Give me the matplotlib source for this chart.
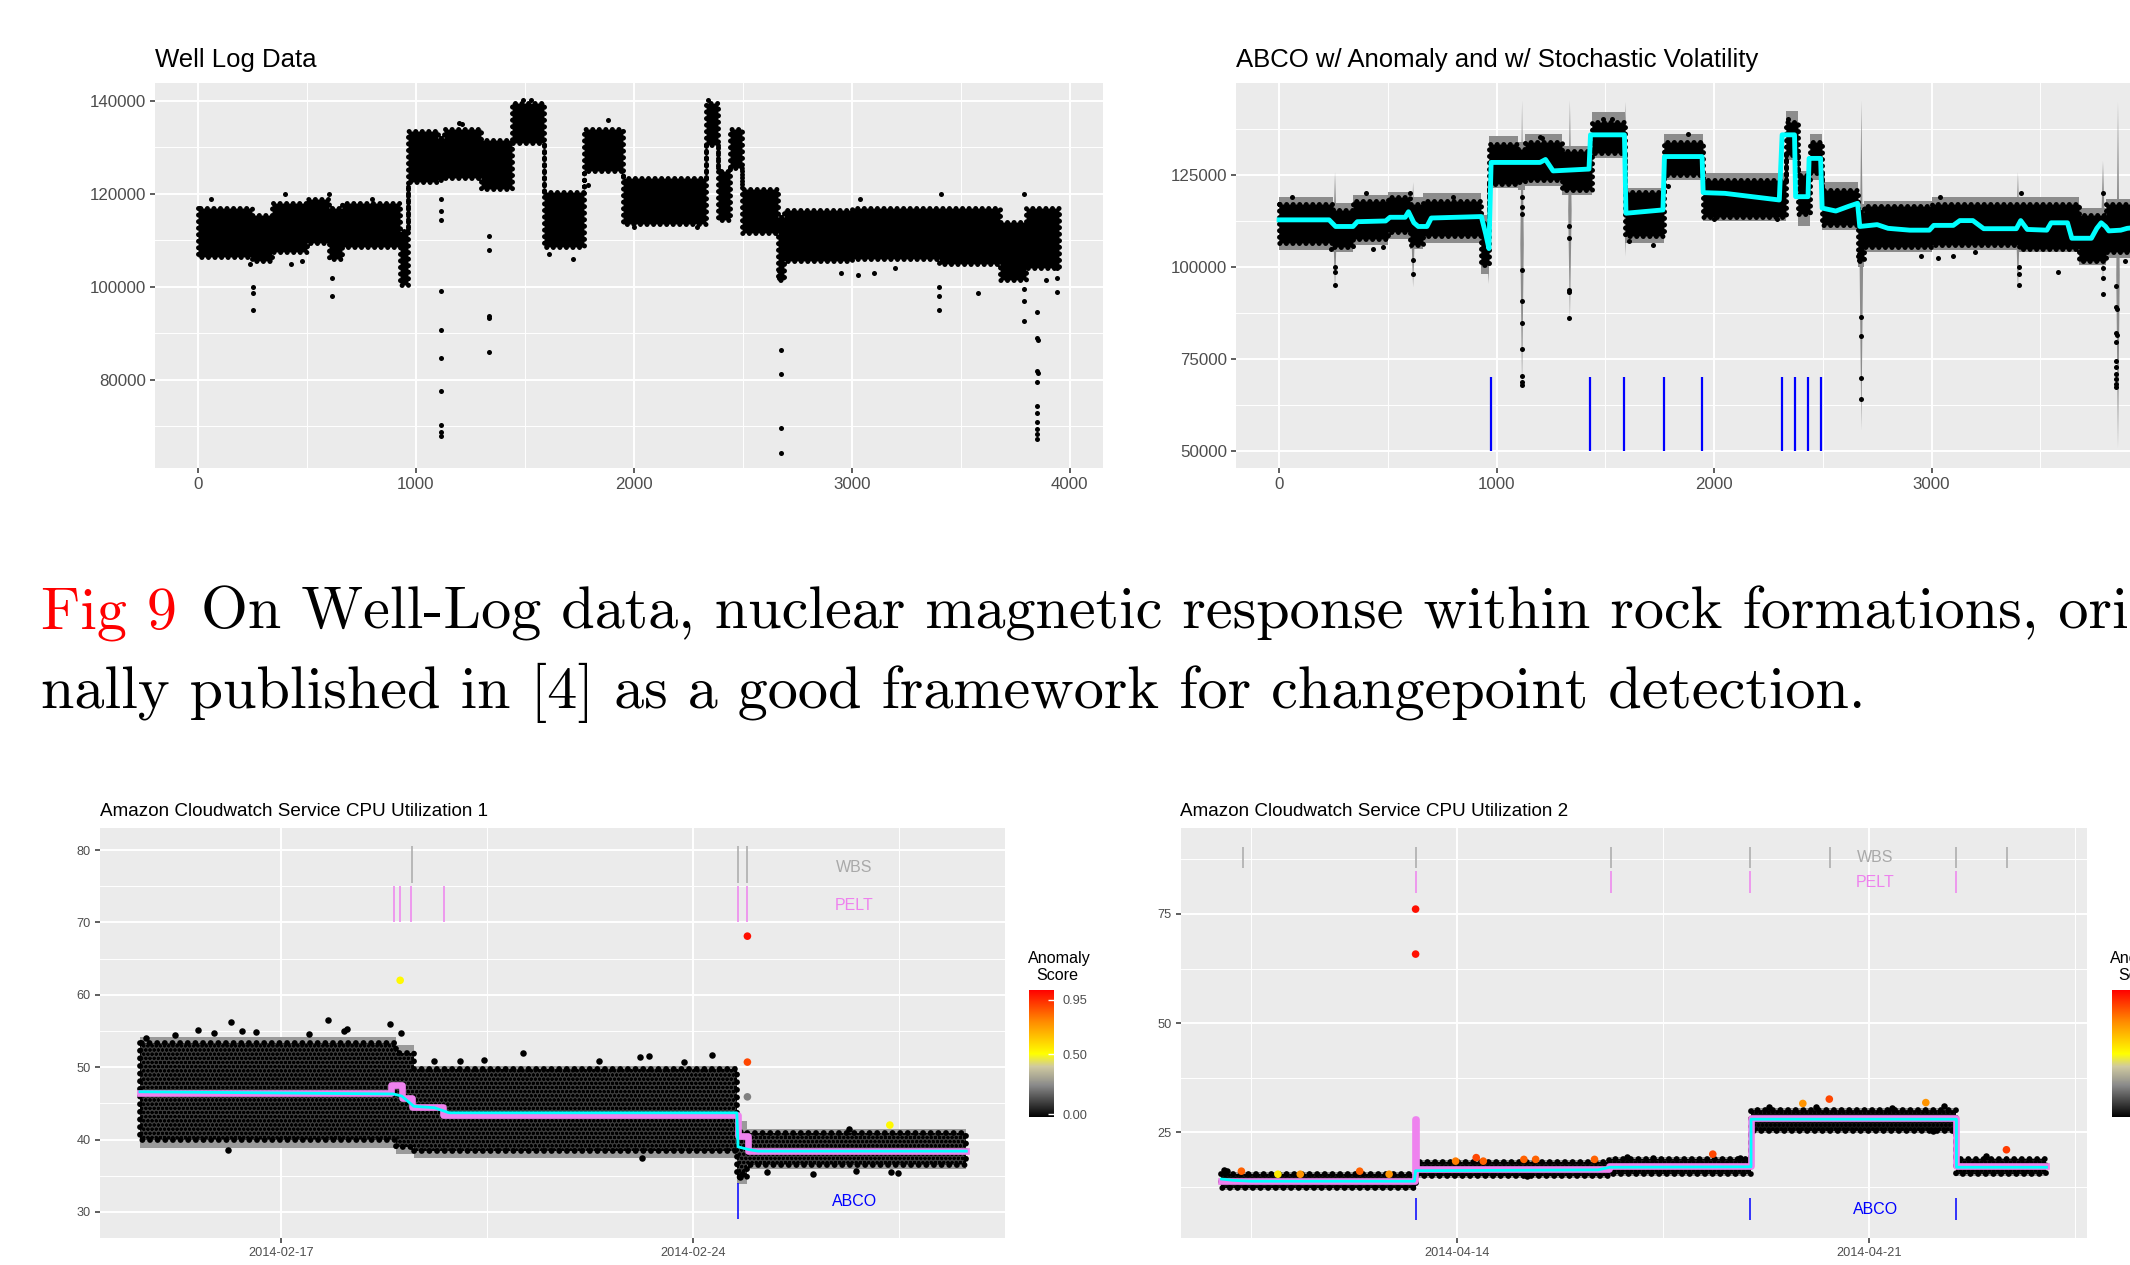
import numpy as np
import matplotlib
matplotlib.use("Agg")
import matplotlib.pyplot as plt
from matplotlib.colors import LinearSegmentedColormap, Normalize
from matplotlib.cm import ScalarMappable

plt.rcParams['font.family'] = ['Liberation Sans', 'DejaVu Sans']
plt.rcParams['hatch.color'] = 'black'
plt.rcParams['hatch.linewidth'] = 1.0

W, H = 2130, 1265

# well log: dense cloud read as blocks (index range, low / high edge)
wl_x0 = [0, 250, 340, 500, 600, 660, 930, 965, 1100, 1130, 1300, 1440, 1590, 1770, 1950,
         2330, 2385, 2440, 2495, 2660, 2690, 3000, 3400, 3680, 3800]
wl_x1 = [250, 340, 500, 600, 660, 930, 965, 1100, 1130, 1300, 1440, 1590, 1770, 1950, 2330,
         2385, 2440, 2495, 2660, 2690, 3000, 3400, 3680, 3800, 3950]
wl_lo = [106500, 105500, 107500, 109500, 106000, 108500, 100500, 122500, 123000, 123500,
         121000, 131000, 108500, 125000, 113500, 130500, 114500, 125500, 111500, 101500,
         105500, 106000, 105000, 101500, 104000]
wl_hi = [117000, 115500, 118000, 119000, 117000, 118000, 112000, 133500, 132000, 134000,
         131500, 139500, 120500, 134000, 123500, 139500, 125000, 134000, 121000, 115000,
         116500, 117000, 117000, 114000, 117000]
# points lying outside the dense cloud
wl_pt_x = [255, 255, 255, 614, 614, 1115, 1115, 1115, 1115, 1115, 1115, 1115, 1115, 1115, 1115,
           1335, 1335, 1335, 1335, 1335, 1720, 3400, 3400, 3400, 3580, 3790, 3790, 3790,
           3850, 3850, 3853, 3850, 3853, 3850, 3850, 3850, 3850, 3850, 3850, 3850,
           2675, 2675, 2675, 2675, 2950, 3030, 3890, 3940, 3940, 3940,
           1200, 1490, 1530, 2340, 60, 400, 600, 800, 1210, 1880, 3410, 3790, 3040,
           240, 430, 480, 3200, 3100, 1610, 1790, 2000, 2290, 2300, 2665, 2668]
wl_pt_y = [100000, 98700, 95000, 102000, 98000, 119000, 116300, 114300, 99200, 90700, 84800,
           77600, 70300, 68800, 68000, 111000, 108000, 93700, 93300, 86000, 106000,
           100000, 98000, 95000, 98700, 99600, 97000, 92700,
           94700, 89000, 88700, 82000, 81500, 79600, 74500, 72800, 70900, 69500, 68300, 67300,
           86400, 81200, 69700, 64200, 103000, 102500, 101500, 104000, 102000, 99000,
           135200, 140200, 140200, 140300, 119000, 120000, 120000, 119000, 135000, 136000,
           120000, 120000, 119000, 105000, 105000, 105500, 104000, 103000, 107000, 122000,
           113000, 113000, 122500, 103400, 102000]

# ABCO fit on the well log
rb_lo = [104500, 104000, 106000, 107500, 105000, 106500, 98000, 121500, 121000, 122000,
         119500, 129500, 106500, 123500, 112500, 129000, 111000, 123500, 110000, 100000,
         104000, 104500, 104000, 100500, 102500]
rb_hi = [119000, 117500, 119500, 120500, 119000, 120000, 114000, 135500, 134000, 136000,
         133000, 142000, 121500, 136000, 125500, 142500, 126000, 136000, 123000, 117000,
         118000, 119000, 119000, 116000, 118500]
spike_x = [255, 614, 960, 1115, 1335, 1590, 2675, 3395, 3786, 3855]
spike_lo = [93700, 94600, 95500, 67500, 85600, 103000, 55700, 93600, 96000, 50900]
spike_hi = [125900, 123200, 121000, 145400, 145400, 145000, 145400, 125900, 129000, 145000]
abco_x = [0, 230, 260, 340, 360, 490, 510, 580, 595, 620, 640, 680, 700, 930, 950, 965, 975,
          1200, 1225, 1260, 1425, 1432, 1588, 1595, 1765, 1772, 1945, 1950, 2050, 2300, 2313,
          2370, 2375, 2432, 2437, 2490, 2497, 2560, 2620, 2660, 2670, 2750, 2800, 2900, 2990,
          3010, 3100, 3130, 3190, 3240, 3390, 3410, 3440, 3530, 3550, 3625, 3645, 3735, 3760,
          3780, 3800, 3815, 3870, 3900, 3950]
abco_y = [112800, 112800, 111000, 111000, 112300, 112500, 113500, 113500, 115000, 112000,
          111000, 111000, 113300, 113700, 109000, 105000, 128400, 128400, 129200, 126100,
          126600, 135900, 135900, 114600, 115500, 130000, 130000, 120200, 120000, 118200,
          135900, 135900, 119100, 119100, 129500, 129500, 116000, 115200, 116500, 117300,
          111000, 111500, 110500, 110000, 110000, 111300, 111300, 112600, 112600, 110400,
          110400, 112600, 110200, 110000, 112000, 112000, 107800, 107800, 110500, 112000,
          111000, 109800, 110000, 110500, 110800]
abco_cp = [973, 1431, 1584, 1771, 1946, 2313, 2373, 2434, 2494]

# Cloudwatch 1 (days from 2014-02-17)
c1_x0 = [-2.40, 1.95, 2.25, 7.74, 7.92]
c1_x1 = [1.95, 2.25, 7.74, 7.92, 11.64]
c1_lo = [40.0, 39.0, 38.4, 34.8, 36.5]
c1_hi = [53.4, 52.0, 49.8, 41.0, 40.9]
c1_rlo = [38.9, 38.0, 37.4, 33.8, 35.9]
c1_rhi = [54.2, 53.0, 50.1, 42.5, 41.4]
c1_pt_d = [-0.85, -1.41, -1.80, -1.14, -0.67, -0.43, 0.47, 0.79, 1.06, 1.12, 1.84, 2.04, -0.91,
           4.10, 3.03, 3.45, 6.09, 6.25, 7.32, 6.84, 6.13, 8.25, 9.03, 9.77, 10.36, 10.48,
           9.65, 7.80, 7.83, -2.30, 2.60, 5.40]
c1_pt_y = [56.2, 55.2, 54.4, 54.7, 55.0, 54.9, 54.6, 56.5, 55.0, 55.3, 55.9, 54.7, 38.6,
           51.9, 50.8, 51.0, 51.4, 51.6, 51.7, 50.7, 37.4, 35.5, 35.2, 35.7, 35.5, 35.4,
           41.4, 34.8, 35.3, 54.0, 50.9, 50.8]
c1_an_d = [2.02, 7.92, 7.92, 7.92, 10.34]
c1_an_y = [62.0, 68.1, 50.7, 45.9, 42.0]
c1_an_s = [0.52, 1.0, 0.9, 0.22, 0.52]
c1_pelt_x = [-2.40, 1.87, 2.05, 2.22, 2.75, 7.76, 7.93, 11.64]
c1_pelt_y = [46.45, 47.5, 45.8, 44.5, 43.45, 40.5, 38.35, 38.35]
c1_abco_x = [-2.40, 1.90, 2.05, 2.25, 2.60, 2.85, 7.74, 7.76, 7.95, 8.10, 11.64]
c1_abco_y = [46.6, 46.3, 46.0, 44.6, 44.4, 43.7, 43.7, 39.0, 38.6, 38.4, 38.4]
c1_pelt_cp = [1.91, 2.01, 2.21, 2.76, 7.76, 7.91]
c1_wbs_cp = [2.22, 7.76, 7.91]
c1_abco_cp = [7.76]

# Cloudwatch 2 (days from 2014-04-14)
c2_x0 = [-4.0, -0.70, 2.59, 5.0, 8.49]
c2_x1 = [-0.70, 2.59, 5.0, 8.49, 10.02]
c2_lo = [12.2, 15.0, 15.5, 25.4, 15.4]
c2_hi = [15.4, 18.1, 19.0, 30.0, 18.8]
c2_rlo = [11.8, 14.6, 15.1, 24.9, 15.0]
c2_rhi = [15.9, 18.6, 19.4, 30.5, 19.2]
c2_pt_d = [-3.95, -3.90, 6.10, 8.28, 8.09, 4.82, 3.34, 9.00, 1.19, 5.30, 7.40, 2.90]
c2_pt_y = [16.4, 16.2, 30.7, 31.0, 25.4, 19.2, 19.2, 19.6, 15.0, 30.8, 30.6, 19.4]
c2_an_d = [-3.66, -3.04, -2.66, -1.65, -1.15, -0.70, -0.70, -0.02, 0.33, 0.45, 1.14, 1.34,
           2.34, 4.35, 5.88, 6.33, 7.97, 9.34]
c2_an_y = [16.1, 15.4, 15.4, 16.1, 15.4, 76.1, 65.8, 18.4, 19.2, 18.4, 18.8, 18.8, 18.8,
           20.0, 31.6, 32.6, 31.8, 21.0]
c2_an_s = [0.85, 0.55, 0.75, 0.85, 0.75, 1.0, 1.0, 0.8, 0.9, 0.85, 0.85, 0.85, 0.85, 0.9,
           0.75, 0.9, 0.75, 0.92]
c2_pelt_x = [-4.0, -0.71, -0.69, 2.59, 5.0, 8.49, 10.02]
c2_pelt_y = [13.75, 28.0, 16.5, 17.3, 28.2, 17.2, 17.2]
c2_abco_x = [-4.0, -3.8, -3.5, -0.72, -0.70, 2.40, 2.60, 5.0, 5.0, 8.49, 8.49, 10.02]
c2_abco_y = [14.3, 14.0, 13.8, 13.8, 16.2, 16.4, 17.0, 17.1, 28.0, 28.0, 17.0, 17.0]
c2_wbs_cp = [-3.64, -0.70, 2.62, 4.98, 6.34, 8.49, 9.35]
c2_pelt_cp = [-0.70, 2.62, 4.98, 8.49]
c2_abco_cp = [-0.70, 4.98, 8.49]

caption_1 = 'On Well-Log data, nuclear magnetic response within rock formations, origi-'
caption_2 = 'nally published in [4] as a good framework for changepoint detection.'

score_cmap = LinearSegmentedColormap.from_list(
    'score', [(0, 'black'), (0.25, '#8a8a8a'), (0.4, '#cfc9a0'), (0.5, 'yellow'),
              (0.75, '#ff8c00'), (1, 'red')])
score_norm = Normalize(vmin=-0.025, vmax=1.033)


def box(l, t, r, b):
    return [l / W, 1 - b / H, (r - l) / W, (b - t) / H]


def steps(x0, x1, *vals):
    xs = np.column_stack([x0, x1]).ravel()
    return [xs] + [np.repeat(v, 2) for v in vals]


def days(base, d):
    return np.datetime64(base) + (np.asarray(d, float) * 86400).astype('timedelta64[s]')


def cloud(ax, x, lo, hi, face, lw, hatch=None):
    # dense point cloud: filled body with a beaded (dotted) outline
    pc = ax.fill_between(x, lo, hi, facecolor=face, edgecolor='black', lw=lw,
                         hatch=hatch, zorder=2)
    pc.set_linestyle((0, (0.01, 1.3)))
    pc.set_capstyle('round')
    return pc


def gg(ax, fs):
    ax.set_facecolor('#EBEBEB')
    for s in ax.spines.values():
        s.set_visible(False)
    ax.grid(which='major', color='white', lw=1.4)
    ax.grid(which='minor', color='white', lw=0.7)
    ax.set_axisbelow(True)
    ax.tick_params(which='major', length=3.5, width=1.1, color='#333333',
                   labelcolor='#4D4D4D', labelsize=fs, pad=3)
    ax.tick_params(which='minor', length=0)


fig = plt.figure(figsize=(W / 100, H / 100), dpi=100)
ax1 = fig.add_axes(box(155, 83.3, 1103.3, 468.3))
ax2 = fig.add_axes(box(1236, 83.3, 2181, 468.3))
ax3 = fig.add_axes(box(100, 828.3, 1004.6, 1238))
ax4 = fig.add_axes(box(1180.5, 828.3, 2087, 1238))

# --- top left: raw well log
xs, lo, hi = steps(wl_x0, wl_x1, wl_lo, wl_hi)
cloud(ax1, xs, lo, hi, 'black', 3.6)
ax1.scatter(wl_pt_x, wl_pt_y, s=13, c='black', lw=0, zorder=3)
ax1.set_xlim(-196, 4154)
ax1.set_ylim(61000, 143800)
ax1.set_xticks([0, 1000, 2000, 3000, 4000])
ax1.set_xticks([500, 1500, 2500, 3500], minor=True)
ax1.set_yticks([80000, 100000, 120000, 140000])
ax1.set_yticks([70000, 90000, 110000, 130000], minor=True)
ax1.set_yticklabels(['80000', '100000', '120000', '140000'])
gg(ax1, 12.2)

# --- top right: ABCO with stochastic volatility
xs, rlo, rhi = steps(wl_x0, wl_x1, rb_lo, rb_hi)
ax2.fill_between(xs, rlo, rhi, color='#8c8c8c', lw=0, zorder=1.5)
for sx, sl, sh in zip(spike_x, spike_lo, spike_hi):
    mid = (sl + sh) / 2
    ax2.fill_between([sx - 8, sx, sx + 8], [mid, sl, mid], [mid, sh, mid],
                     color='#8c8c8c', lw=0, zorder=1.5)
xs, lo, hi = steps(wl_x0, wl_x1, wl_lo, wl_hi)
cloud(ax2, xs, lo, hi, 'black', 3.6)
ax2.scatter(wl_pt_x, wl_pt_y, s=13, c='black', lw=0, zorder=3)
ax2.plot(abco_x, abco_y, color='cyan', lw=3.5, zorder=4, solid_joinstyle='round')
ax2.vlines(abco_cp, 50000, 70000, color='blue', lw=1.6, zorder=4)
ax2.set_xlim(-198, 4147)
ax2.set_ylim(45300, 149900)
ax2.set_xticks([0, 1000, 2000, 3000])
ax2.set_xticks([500, 1500, 2500, 3500], minor=True)
ax2.set_yticks([50000, 75000, 100000, 125000])
ax2.set_yticks([62500, 87500, 112500, 137500], minor=True)
ax2.set_yticklabels(['50000', '75000', '100000', '125000'])
gg(ax2, 12.2)

fig.text(155 / W, 1 - 67 / H, 'Well Log Data', fontsize=18.5, va='baseline')
fig.text(1236 / W, 1 - 67 / H, 'ABCO w/ Anomaly and w/ Stochastic Volatility', fontsize=18.5, va='baseline')

# --- bottom panels: Cloudwatch CPU
panels = [
    (ax3, '2014-02-17', c1_x0, c1_x1, c1_lo, c1_hi, c1_rlo, c1_rhi, c1_pt_d, c1_pt_y,
     c1_pelt_x, c1_pelt_y, c1_abco_x, c1_abco_y, c1_an_d, c1_an_y, c1_an_s,
     c1_wbs_cp, c1_pelt_cp, c1_abco_cp, (75.5, 80.5), (70, 75), (29, 34),
     9.74, (77.6, 72.4, 31.4), '#3c3c3c'),
    (ax4, '2014-04-14', c2_x0, c2_x1, c2_lo, c2_hi, c2_rlo, c2_rhi, c2_pt_d, c2_pt_y,
     c2_pelt_x, c2_pelt_y, c2_abco_x, c2_abco_y, c2_an_d, c2_an_y, c2_an_s,
     c2_wbs_cp, c2_pelt_cp, c2_abco_cp, (85.4, 90.4), (79.9, 84.9), (5, 10),
     7.11, (88.0, 82.3, 7.4), '#141414'),
]
for (ax, base, x0, x1, lo, hi, rlo, rhi, pd_, py, px, pyv, ax_, ay, ad, ay_, asc,
     wcp, pcp, acp, wr, pr, ar, lab_d, lab_y, face) in panels:
    xs, l, h, rl, rh = steps(x0, x1, lo, hi, rlo, rhi)
    t = days(base, xs)
    ax.fill_between(t, rl, rh, color='#9a9a9a', lw=0, zorder=1.5)
    cloud(ax, t, l, h, face, 4.2, hatch='oooo')
    ax.scatter(days(base, pd_), py, s=22, c='black', lw=0, zorder=3)
    ax.plot(days(base, px), pyv, drawstyle='steps-post', color='violet', lw=4.8, zorder=4)
    ax.plot(days(base, ax_), ay, color='cyan', lw=2.0, zorder=5)
    ax.scatter(days(base, ad), ay_, c=asc, cmap=score_cmap, norm=score_norm, s=30, lw=0, zorder=6)
    ax.vlines(days(base, wcp), *wr, color='#A9A9A9', lw=1.1, zorder=4)
    ax.vlines(days(base, pcp), *pr, color='violet', lw=1.1, zorder=4)
    ax.vlines(days(base, acp), *ar, color='blue', lw=1.1, zorder=4)
    for txt, yy, col in zip(['WBS', 'PELT', 'ABCO'], lab_y, ['#A9A9A9', 'violet', 'blue']):
        ax.text(days(base, lab_d), yy, txt, color=col, ha='center', va='center', fontsize=11.5, zorder=6)
    ax.set_xticks(days(base, [0, 7]))
    ax.set_xticks(days(base, [-3.5, 3.5, 10.5]), minor=True)
    ax.set_xticklabels([str(d)[:10] for d in days(base, [0, 7])])
    gg(ax, 9.2)

ax3.set_xlim(days('2014-02-17', [-3.08, 12.29]))
ax3.set_ylim(26.4, 83.0)
ax3.set_yticks([30, 40, 50, 60, 70, 80])
ax3.set_yticks([35, 45, 55, 65, 75], minor=True)
ax4.set_xlim(days('2014-04-14', [-4.695, 10.709]))
ax4.set_ylim(0.8, 94.6)
ax4.set_yticks([25, 50, 75])
ax4.set_yticks([12.5, 37.5, 62.5, 87.5], minor=True)

fig.text(100 / W, 1 - 815.7 / H, 'Amazon Cloudwatch Service CPU Utilization 1', fontsize=13.6, va='baseline')
fig.text(1180.5 / W, 1 - 815.7 / H, 'Amazon Cloudwatch Service CPU Utilization 2', fontsize=13.6, va='baseline')

# anomaly score colourbars
for left in [1029, 2111.5]:
    cax = fig.add_axes(box(left, 990, left + 25, 1117.3))
    cb = fig.colorbar(ScalarMappable(score_norm, score_cmap), cax=cax)
    cb.set_ticks([0, 0.5, 0.95])
    cb.set_ticklabels(['0.00', '0.50', '0.95'])
    cb.outline.set_visible(False)
    cax.tick_params(length=4, width=1, color='white', direction='in', labelsize=9.2,
                    labelcolor='#4D4D4D', pad=6)
    fig.text((left + 30) / W, 1 - 962.7 / H, 'Anomaly', ha='center', va='baseline', fontsize=11.6)
    fig.text((left + 28) / W, 1 - 980 / H, 'Score', ha='center', va='baseline', fontsize=11.6)

# caption (Computer Modern), size fitted to the second line's width
cap2 = fig.text(40.8 / W, 1 - 708.3 / H, caption_2, family='cmr10', fontsize=48, va='baseline')
fig.canvas.draw()
fs = 48 * 1829 / cap2.get_window_extent().width
cap2.set_fontsize(fs)
fig.text(40.8 / W, 1 - 628.3 / H, 'Fig 9', family='cmr10', fontsize=fs, color='red', va='baseline')
fig.text(201 / W, 1 - 628.3 / H, caption_1, family='cmr10', fontsize=fs, va='baseline')

fig.savefig('out.png', dpi=100)
